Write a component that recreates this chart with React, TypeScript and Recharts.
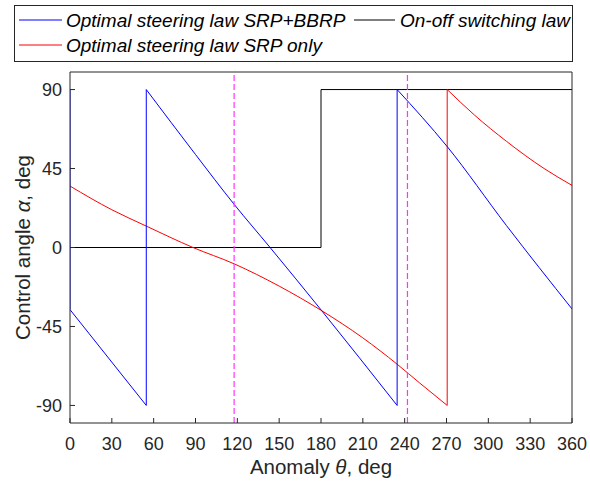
import React from 'react';
import { LineChart, Line, XAxis, YAxis, Label, ReferenceLine } from 'recharts';

// Optimal steering law SRP+BBRP (blue); repeated theta = jump
const blueTheta = [0, 0, 54.7, 54.7, 90, 117.7, 143.5, 180.5, 234.6, 234.6, 270.5, 313, 360];
const blueAlpha = [90, -35.4, -90, 90, 53, 24.6, 0, -36, -90, 90, 57.5, 12.5, -35];

// Optimal steering law SRP only (red)
const redTheta = [0, 30, 54.7, 88.2, 117.7, 150, 180.5, 210, 234.6, 250.9, 270.5, 270.5, 290, 313, 340, 360];
const redAlpha = [35, 21.5, 12.2, 0, -9.3, -22, -36, -51.5, -66.5, -77.3, -90, 90, 75.5, 60.5, 45, 35.4];

// On-off switching law (black)
const blackTheta = [0, 180, 180, 360];
const blackAlpha = [0, 0, 90, 90];

// dashed magenta markers
const markerA = 117.7;
const markerB = 242;

const xTicks = [0, 30, 60, 90, 120, 150, 180, 210, 240, 270, 300, 330, 360];
const yTicks = [-90, -45, 0, 45, 90];

type Pt = { x: number; y: number };

// split a series at repeated theta values: smooth pieces + vertical jumps
const split = (th: number[], al: number[]) => {
  const pieces: Pt[][] = [[]];
  const jumps: Pt[][] = [];
  th.forEach((t, i) => {
    if (i > 0 && t === th[i - 1]) {
      jumps.push([{ x: t, y: al[i - 1] }, { x: t, y: al[i] }]);
      pieces.push([]);
    }
    pieces[pieces.length - 1].push({ x: t, y: al[i] });
  });
  return { pieces: pieces.filter((p) => p.length > 1), jumps };
};

const series = [
  { name: 'black', color: '#000000', curve: 'linear', ...split(blackTheta, blackAlpha) },
  { name: 'red', color: '#ff0000', curve: 'monotone', ...split(redTheta, redAlpha) },
  { name: 'blue', color: '#0000ff', curve: 'monotone', ...split(blueTheta, blueAlpha) },
];

const axisColor = '#262626';
const magenta = '#ff33ff';
const font = '"Liberation Sans", Arial, sans-serif';

const YLabel = (props: any) => {
  const vb = props.viewBox;
  const cx = 22;
  const cy = vb.y + vb.height / 2;
  return (
    <text
      x={cx}
      y={cy}
      transform={`rotate(-90 ${cx} ${cy})`}
      textAnchor="middle"
      dominantBaseline="central"
      fontFamily={font}
      fontSize={20.5}
      fill={axisColor}
    >
      Control angle <tspan fontStyle="italic">α</tspan>, deg
    </text>
  );
};

const XLabel = (props: any) => {
  const vb = props.viewBox;
  const cx = vb.x + vb.width / 2;
  return (
    <text x={cx} y={474} textAnchor="middle" fontFamily={font} fontSize={20.5} fill={axisColor}>
      Anomaly <tspan fontStyle="italic">θ</tspan>, deg
    </text>
  );
};

const LegendBox = () => (
  <svg width={590} height={66} style={{ position: 'absolute', left: 0, top: 0 }}>
    <rect x={14.5} y={5.5} width={558} height={56} fill="#fff" stroke={axisColor} strokeWidth={1} />
    <g fontFamily={font} fontSize={19} fontStyle="italic" fill="#000">
      <line x1={19} x2={62} y1={20} y2={20} stroke="#0000ff" />
      <text x={66} y={27}>Optimal steering law SRP+BBRP</text>
      <line x1={354} x2={395} y1={20} y2={20} stroke="#000" />
      <text x={400} y={27}>On-off switching law</text>
      <line x1={19} x2={62} y1={45} y2={45} stroke="#ff0000" />
      <text x={66} y={52}>Optimal steering law SRP only</text>
    </g>
  </svg>
);

export default function App() {
  return (
    <div style={{ position: 'absolute', left: 0, top: 0, width: 590, height: 483, background: '#fff' }}>
      <LineChart width={590} height={483} margin={{ top: 0, right: 0, bottom: 0, left: 0 }}>
        <XAxis
          xAxisId="top"
          orientation="top"
          type="number"
          dataKey="x"
          domain={[0, 360]}
          ticks={xTicks}
          height={72}
          tick={false}
          tickSize={-5}
          stroke={axisColor}
        />
        <YAxis
          yAxisId="right"
          orientation="right"
          type="number"
          domain={[-100, 100]}
          ticks={yTicks}
          width={18}
          tick={false}
          tickSize={-5}
          stroke={axisColor}
        />
        <XAxis
          type="number"
          dataKey="x"
          domain={[0, 360]}
          ticks={xTicks}
          height={60}
          tickSize={-5}
          tickMargin={19}
          stroke={axisColor}
          tick={{ fill: axisColor, fontSize: 18, fontFamily: font }}
          interval={0}
          allowDataOverflow
        >
          <Label content={XLabel} />
        </XAxis>
        <YAxis
          type="number"
          dataKey="y"
          domain={[-100, 100]}
          ticks={yTicks}
          width={70}
          tickSize={-5}
          tickMargin={13}
          stroke={axisColor}
          tick={{ fill: axisColor, fontSize: 18, fontFamily: font }}
          interval={0}
          allowDataOverflow
        >
          <Label content={YLabel} />
        </YAxis>
        {series.flatMap((s) => [
          ...s.pieces.map((p, i) => (
            <Line
              key={`${s.name}-p${i}`}
              data={p}
              dataKey="y"
              type={s.curve as any}
              stroke={s.color}
              strokeWidth={1}
              dot={false}
              activeDot={false}
              isAnimationActive={false}
            />
          )),
          ...s.jumps.map((j, i) => (
            <Line
              key={`${s.name}-j${i}`}
              data={j}
              dataKey="y"
              type="linear"
              stroke={s.color}
              strokeWidth={1}
              dot={false}
              activeDot={false}
              isAnimationActive={false}
            />
          )),
        ])}
        <ReferenceLine x={markerA} stroke={magenta} strokeWidth={1.2} strokeDasharray="6 3" />
        <ReferenceLine x={markerB} stroke={magenta} strokeWidth={1.2} strokeDasharray="6 3" />
      </LineChart>
      <LegendBox />
    </div>
  );
}
